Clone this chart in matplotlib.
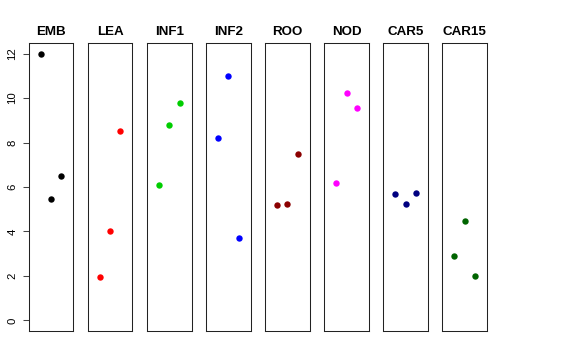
import matplotlib
matplotlib.use("Agg")
import matplotlib.pyplot as plt

plt.rcParams['font.family'] = ['Liberation Sans', 'DejaVu Sans']

# tissue groups and their three values each
groups = ['EMB', 'LEA', 'INF1', 'INF2', 'ROO', 'NOD', 'CAR5', 'CAR15']
colors = ['black', 'red', '#00CD00', 'blue', '#8B0000', 'magenta', '#000080', '#006400']
emb = [12.0, 5.48, 6.49]
lea = [1.96, 4.0, 8.51]
inf1 = [6.09, 8.77, 9.79]
inf2 = [8.2, 11.0, 3.71]
roo = [5.21, 5.25, 7.48]
nod = [6.2, 10.25, 9.56]
car5 = [5.68, 5.25, 5.73]
car15 = [2.91, 4.46, 2.01]
values = [emb, lea, inf1, inf2, roo, nod, car5, car15]
xpos = [1, 2, 3]
yticks = [0, 2, 4, 6, 8, 10, 12]

W, H = 576, 360
fig = plt.figure(figsize=(W / 100, H / 100), dpi=100)

for i, (name, col, vals) in enumerate(zip(groups, colors, values)):
    left = 28.7 + i * 59.1
    ax = fig.add_axes([left / W, (H - 331) / H, 44.6 / W, 288 / H])
    ax.plot(xpos, vals, 'o', color=col, markersize=4.6, markeredgewidth=0)
    ax.set_xlim(-0.16, 4.16)
    ax.set_ylim(-0.48, 12.48)
    ax.set_xticks([])
    for s in ax.spines.values():
        s.set_linewidth(0.75)
        s.set_color('#222222')
    ax.set_title(name, fontsize=9.6, fontweight='bold', pad=6)
    if i == 0:
        ax.set_yticks(yticks)
        ax.set_yticklabels([str(t) for t in yticks], rotation=90, va='center', fontsize=8.2)
        ax.tick_params(axis='y', length=4.5, width=0.75, pad=3.5, color='#444444')
    else:
        ax.set_yticks([])

fig.savefig('out.png', dpi=100)
